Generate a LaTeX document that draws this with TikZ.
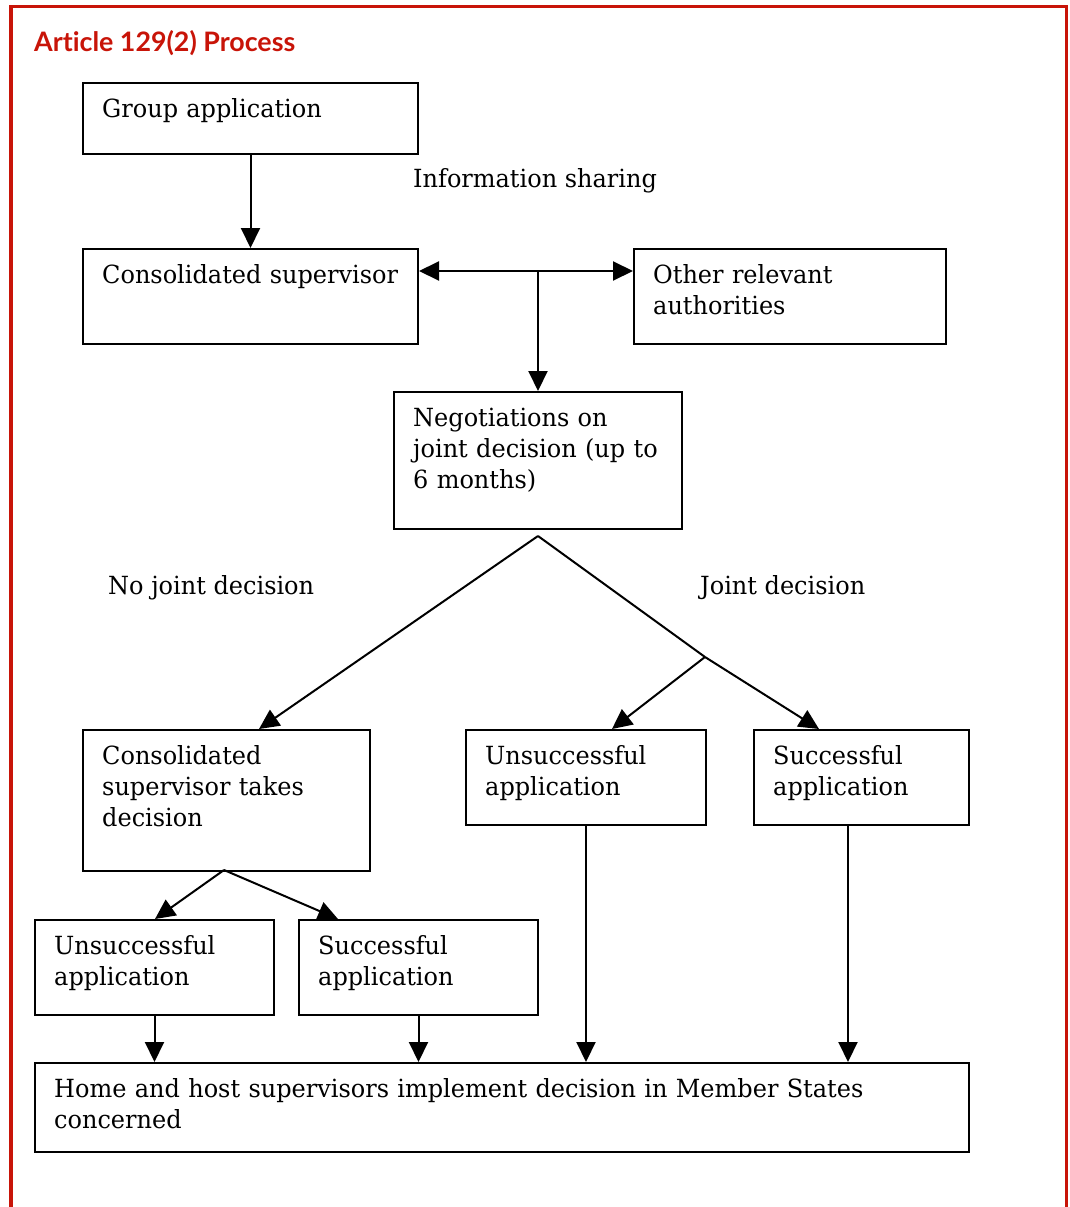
\documentclass[tikz,border=0pt]{standalone}
\usepackage{fontspec}
\setmainfont{DejaVu Serif}[FakeStretch=0.96]
\newfontfamily\titlefont{Lato}[Ligatures=NoCommon]
\usetikzlibrary{arrows.meta,calc}
\definecolor{framered}{RGB}{200,20,8}
\newcommand\mybox[6]{%
  \node[box, minimum width=#4, minimum height=#5] (#1) at (#2,#3) {};
  \node[boxtext] (#1-t) at ($(#1.north west)+(20,35)$) {#6};
}
\begin{document}
\begin{tikzpicture}[x=1pt,y=-1pt,
  box/.style={draw, line width=2, anchor=north west, inner sep=0},
  boxtext/.style={anchor=base west, align=left, inner sep=0, text width=900, font=\fontsize{25}{31.2}\selectfont},
  lbl/.style={anchor=base west, inner sep=0, font=\fontsize{25}{31.2}\selectfont},
  conn/.style={line width=2},
  arr/.style={line width=2, -{Triangle[length=20,width=19]}},
  darr/.style={line width=2, {Triangle[length=20,width=19]}-{Triangle[length=20,width=19]}}]
\useasboundingbox (0,0) rectangle (1069,1207);
% frame
\draw[framered, line width=3.2] (11,1230) -- (11,6.5) -- (1066.5,6.5) -- (1066.5,1230);
\node[anchor=base west, inner sep=0, text=framered, font=\titlefont\bfseries\fontsize{26.8}{30}\selectfont] (title) at (34,52) {Article 129(2) Process};
% boxes
\mybox{ga}{82}{82}{335}{71}{Group application}
\mybox{cs}{82}{248}{335}{95}{Consolidated supervisor}
\mybox{ora}{633}{248}{312}{95}{Other relevant\\authorities}
\mybox{neg}{393}{391}{288}{137}{Negotiations on\\joint decision (up to\\6 months)}
\mybox{cstd}{82}{729}{287}{141}{Consolidated\\supervisor takes\\decision}
\mybox{ur}{465}{729}{240}{95}{Unsuccessful\\application}
\mybox{sr}{753}{729}{215}{95}{Successful\\application}
\mybox{ul}{34}{919}{239}{95}{Unsuccessful\\application}
\mybox{sl}{298}{919}{239}{95}{Successful\\application}
\mybox{hh}{34}{1062}{934}{89}{Home and host supervisors implement decision in Member States\\concerned}
% labels
\node[lbl] (info) at (413,187) {Information sharing};
\node[lbl] (nojd) at (108,594) {No joint decision};
\node[lbl] (jd) at (700,594) {Joint decision};
% connectors
\draw[arr] (ga.south) -- (cs.north);
\coordinate (hub) at (neg.north |- 0,271);
\draw[darr] (cs.east |- hub) -- (ora.west |- hub);
\draw[arr] (hub) -- (neg.north);
\coordinate (apex) at (neg.south |- 0,536);
\coordinate (split) at (705,657);
\draw[arr] (apex) -- ($(cstd.north west)+(177,0)$);
\draw[conn] (apex) -- (split);
\draw[arr] (split) -- ($(ur.north west)+(147,0)$);
\draw[arr] (split) -- ($(sr.north west)+(66,0)$);
\coordinate (split2) at (224,870);
\draw[arr] (split2) -- ($(ul.north west)+(121,0)$);
\draw[arr] (split2) -- ($(sl.north west)+(40,0)$);
\draw[arr] (ul.south) -- (ul.south |- hh.north);
\draw[arr] (sl.south) -- (sl.south |- hh.north);
\draw[arr] (ur.south) -- (ur.south |- hh.north);
\coordinate (srdrop) at ($(sr.south west)+(95,0)$);
\draw[arr] (srdrop) -- (srdrop |- hh.north);
\end{tikzpicture}
\end{document}
